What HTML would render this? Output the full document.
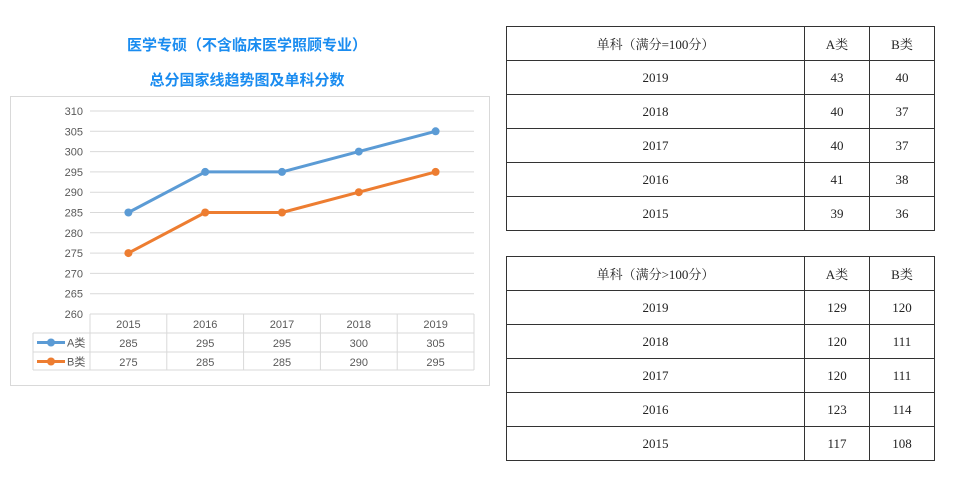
<!DOCTYPE html>
<html><head><meta charset="utf-8"><style>
body{margin:0;width:959px;height:483px;background:#fff;position:relative;font-family:"Liberation Sans","Noto Sans CJK SC",sans-serif;overflow:hidden}
.title{position:absolute;left:10px;width:474px;text-align:center;color:#1a8cf0;font-weight:bold;font-size:15px}
table.t{position:absolute;left:506px;width:429px;border-collapse:collapse;font-family:"Liberation Serif","Noto Serif CJK SC",serif;font-size:13px;color:#222}
table.t td{border:1px solid #333;height:33px;text-align:center;padding:0}
</style></head><body>
<div class="title" style="top:34px">医学专硕（不含临床医学照顾专业）</div>
<div class="title" style="top:69px">总分国家线趋势图及单科分数</div>
<svg id="chart" style="position:absolute;left:0;top:0" width="500" height="400"></svg>
<table class="t" style="top:26px">
<tr><td style="width:297px">单科（满分=100分）</td><td style="width:64px">A类</td><td>B类</td></tr>
<tr><td>2019</td><td>43</td><td>40</td></tr>
<tr><td>2018</td><td>40</td><td>37</td></tr>
<tr><td>2017</td><td>40</td><td>37</td></tr>
<tr><td>2016</td><td>41</td><td>38</td></tr>
<tr><td>2015</td><td>39</td><td>36</td></tr>
</table>
<table class="t" style="top:256px">
<tr><td style="width:297px">单科（满分&gt;100分）</td><td style="width:64px">A类</td><td>B类</td></tr>
<tr><td>2019</td><td>129</td><td>120</td></tr>
<tr><td>2018</td><td>120</td><td>111</td></tr>
<tr><td>2017</td><td>120</td><td>111</td></tr>
<tr><td>2016</td><td>123</td><td>114</td></tr>
<tr><td>2015</td><td>117</td><td>108</td></tr>
</table>
<script>
const categories=["2015","2016","2017","2018","2019"];
const seriesA=[285,295,295,300,305];
const seriesB=[275,285,285,290,295];
const yTicks=[260,265,270,275,280,285,290,295,300,305,310];
const seriesNames=["A类","B类"];
const colors=["#5b9bd5","#ed7d31"];
const svg=document.getElementById('chart');const NS="http://www.w3.org/2000/svg";
function mk(t,a,p){const e=document.createElementNS(NS,t);for(const k in a)e.setAttribute(k,a[k]);(p||svg).appendChild(e);return e;}
const L=90,R=474,T=111,B=314,ymin=260,ymax=310;
const y=v=>B-(v-ymin)/(ymax-ymin)*(B-T);
const cw=(R-L)/categories.length;
const x=i=>L+cw*(i+0.5);
const frame=mk('rect',{x:10.5,y:96.5,width:479,height:289,fill:'#fff',stroke:'#d9d9d9'});


yTicks.forEach(v=>{
 const g=mk('line',{x1:L,x2:R,y1:y(v),y2:y(v),stroke:'#d9d9d9'});
 
 
 const t=mk('text',{x:83,y:y(v)+4,'text-anchor':'end','font-size':11,fill:'#595959','font-family':'Liberation Sans'});
 t.textContent=v;
 
 
});
// data table grid
const rows=[B,B+19,B+38,B+56];
rows.forEach((ry,i)=>{const l=mk('line',{x1:i==0?L:33,x2:R,y1:ry,y2:ry,stroke:'#d9d9d9'});
 
 });
for(let i=0;i<=categories.length;i++){const l=mk('line',{x1:L+cw*i,x2:L+cw*i,y1:B,y2:rows[3],stroke:'#d9d9d9'});
 
 }
const lv=mk('line',{x1:33,x2:33,y1:rows[1],y2:rows[3],stroke:'#d9d9d9'});


categories.forEach((c,i)=>{const t=mk('text',{x:x(i),y:B+14,'text-anchor':'middle','font-size':11,fill:'#595959'});t.textContent=c;
 
 });
[seriesA,seriesB].forEach((s,si)=>{
 const pl=mk('polyline',{points:s.map((v,i)=>x(i)+','+y(v)).join(' '),fill:'none',stroke:colors[si],'stroke-width':3,'stroke-linejoin':'round'});
 
 
 s.forEach((v,i)=>{const c=mk('circle',{cx:x(i),cy:y(v),r:4,fill:colors[si]});
  
  
  const t=mk('text',{x:x(i),y:rows[si+1]+14,'text-anchor':'middle','font-size':11,fill:'#595959'});t.textContent=v;
  
  });
 const ly=rows[si+1]+9.5;
 const ll=mk('line',{x1:37,x2:65,y1:ly,y2:ly,stroke:colors[si],'stroke-width':3});
 
 
 const lc=mk('circle',{cx:51,cy:ly,r:4,fill:colors[si]});
 
 
 const lt=mk('text',{x:67,y:ly+4,'font-size':11,fill:'#595959','font-family':'Liberation Sans, Noto Sans CJK SC'});lt.textContent=seriesNames[si];
 
 
});
</script>
</body></html>
